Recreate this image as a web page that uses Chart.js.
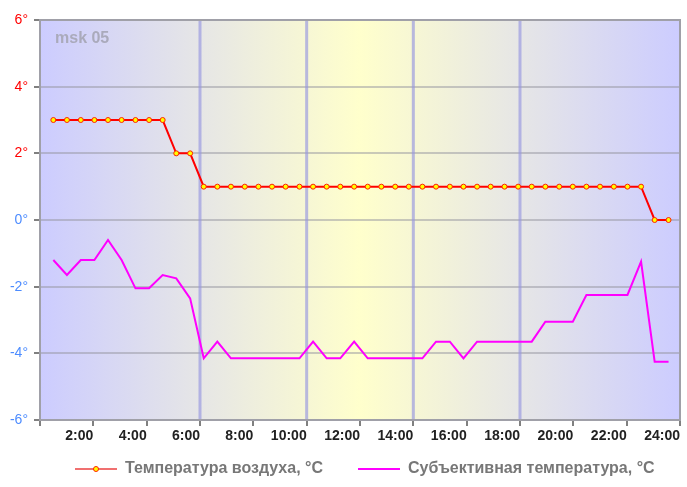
<!DOCTYPE html>
<html>
<head>
<meta charset="utf-8">
<script src="https://cdn.jsdelivr.net/npm/chart.js@4.4.0/dist/chart.umd.min.js"></script>
<style>
  html, body { margin: 0; padding: 0; background: #fff; }
  #wrap { width: 687px; height: 487px; }
</style>
</head>
<body>
<div id="wrap"><canvas id="myChart1"></canvas></div>
<script>
var station = "msk 05";

// time of each reading, in hours
var times = [0.50,1.01,1.53,2.04,2.55,3.06,3.58,4.09,4.60,5.11,5.63,6.14,6.65,7.16,7.68,8.19,
  8.70,9.21,9.73,10.24,10.75,11.26,11.78,12.29,12.80,13.32,13.83,14.34,14.85,15.37,15.88,
  16.39,16.90,17.42,17.93,18.44,18.95,19.47,19.98,20.49,21.00,21.52,22.03,22.54,23.05,23.57];

var airTemp = [3,3,3,3,3,3,3,3,3,2,2,
  1,1,1,1,1,1,1,1,1,1,1,1,1,1,1,1,1,1,1,1,1,1,1,1,1,1,1,1,1,1,1,1,1,
  0,0];

var feelTemp = [-1.2,-1.65,-1.2,-1.2,-0.6,-1.2,-2.05,-2.05,-1.65,-1.75,-2.35,-4.15,-3.65,
  -4.15,-4.15,-4.15,-4.15,-4.15,-4.15,-3.65,-4.15,-4.15,-3.65,-4.15,-4.15,-4.15,-4.15,-4.15,
  -3.65,-3.65,-4.15,-3.65,-3.65,-3.65,-3.65,-3.65,-3.05,-3.05,-3.05,-2.25,-2.25,-2.25,-2.25,
  -1.25,-4.25,-4.25];

var seriesNames = ["Температура воздуха, °C", "Субъективная температура, °C"];
var bands = [6, 10, 14, 18];

function points(vals){
  var out = [];
  for(var i=0; i<vals.length; i++){
    out.push({x: times[i], y: vals[i]});
  }
  return out;
}

// little line pictures for the legend
function legendIcon(color, dot){
  var c = document.createElement('canvas');
  c.width = 67; c.height = 10;
  var g = c.getContext('2d');
  g.strokeStyle = color;
  g.lineWidth = 2;
  g.beginPath(); g.moveTo(25, 5); g.lineTo(67, 5); g.stroke();
  if(dot){
    g.beginPath(); g.arc(46, 5, 2.5, 0, 2*Math.PI);
    g.fillStyle = '#ffff00'; g.fill();
    g.strokeStyle = '#ff2200'; g.lineWidth = 1; g.stroke();
  }
  return c;
}
var icons = [legendIcon('#f07070', true), legendIcon('#ff00ff', false)];

var backdrop = {
  id: 'backdrop',
  afterLayout: function(chart){
    // legend starts under the plot, not at the canvas edge
    chart.legend.left = chart.chartArea.left;
  },
  beforeDraw: function(chart){
    var a = chart.chartArea, ctx = chart.ctx;
    var g = ctx.createLinearGradient(a.left, 0, a.right, 0);
    g.addColorStop(0, '#ccccff');
    g.addColorStop(0.25, '#e6e6e6');
    g.addColorStop(0.5, '#ffffcc');
    g.addColorStop(0.75, '#e6e6e6');
    g.addColorStop(1, '#ccccff');
    ctx.save();
    ctx.fillStyle = g;
    ctx.fillRect(a.left, a.top, a.right - a.left, a.bottom - a.top);
    ctx.fillStyle = '#aaaabb';
    ctx.font = 'bold 16px "Liberation Sans", Arial, sans-serif';
    ctx.textBaseline = 'middle';
    ctx.fillText(station, a.left + 15, a.top + 19);
    ctx.restore();
  },
  beforeDatasetsDraw: function(chart){
    var a = chart.chartArea, ctx = chart.ctx, xs = chart.scales.x;
    ctx.save();
    ctx.strokeStyle = 'rgba(150,150,225,0.65)';
    ctx.lineWidth = 3;
    bands.forEach(function(h){
      var px = xs.getPixelForValue(h);
      ctx.beginPath(); ctx.moveTo(px, a.top); ctx.lineTo(px, a.bottom); ctx.stroke();
    });
    ctx.strokeStyle = '#a0a0a8';
    ctx.lineWidth = 2;
    ctx.strokeRect(a.left, a.top, a.right - a.left, a.bottom - a.top);
    ctx.restore();
  }
};

Chart.defaults.font.family = '"Liberation Sans", Arial, sans-serif';

var data = {
  datasets: [
    {
      label: seriesNames[0],
      data: points(airTemp),
      borderColor: '#ff0000',
      borderWidth: 2,
      pointRadius: 2.5,
      pointBackgroundColor: '#ffff00',
      pointBorderColor: '#ff2200',
      pointBorderWidth: 1,
      tension: 0
    },
    {
      label: seriesNames[1],
      data: points(feelTemp),
      borderColor: '#ff00ff',
      borderWidth: 2,
      pointRadius: 0,
      tension: 0
    }
  ]
};

var options = {
  responsive: true,
  maintainAspectRatio: false,
  animation: false,
  layout: { padding: { left: 0, right: 7, top: 20, bottom: 0 } },
  plugins: {
    tooltip: { enabled: false },
    legend: {
      position: 'bottom',
      align: 'start',
      labels: {
        usePointStyle: true,
        pointStyleWidth: 67,
        padding: 10,
        color: '#777777',
        font: { size: 16, weight: 'bold' },
        generateLabels: function(chart){
          return chart.data.datasets.map(function(ds, i){
            return { text: ds.label, pointStyle: icons[i], fillStyle: ds.borderColor,
              strokeStyle: ds.borderColor, lineWidth: 0, hidden: false, datasetIndex: i,
              fontColor: '#777777' };
          });
        }
      }
    }
  },
  scales: {
    x: {
      type: 'linear',
      min: 0, max: 24,
      afterFit: function(s){ s.height = 31; },
      border: { display: false },
      grid: { drawOnChartArea: false, drawTicks: true, tickLength: 6, tickColor: '#808080', lineWidth: 2 },
      ticks: {
        stepSize: 2, autoSkip: false, maxRotation: 0, align: 'end', padding: 2,
        color: '#222222', font: { size: 14, weight: 'bold' },
        callback: function(v){ return v === 0 ? '' : v + ':00'; }
      }
    },
    y: {
      min: -6, max: 6,
      afterFit: function(s){ s.width = 40; },
      border: { display: false },
      grid: { color: 'rgba(150,150,160,0.5)', lineWidth: 2, tickLength: 6, tickColor: '#808080' },
      ticks: {
        stepSize: 2, padding: 6, font: { size: 14 },
        color: function(c){ return c.tick && c.tick.value > 0 ? '#ff0000' : '#4d8cff'; },
        callback: function(v){ return v + '°'; }
      }
    }
  }
};

var ctx = document.getElementById("myChart1").getContext("2d");
var lineChart = new Chart(ctx, { type: 'line', data: data, options: options, plugins: [backdrop] });
</script>
</body>
</html>
